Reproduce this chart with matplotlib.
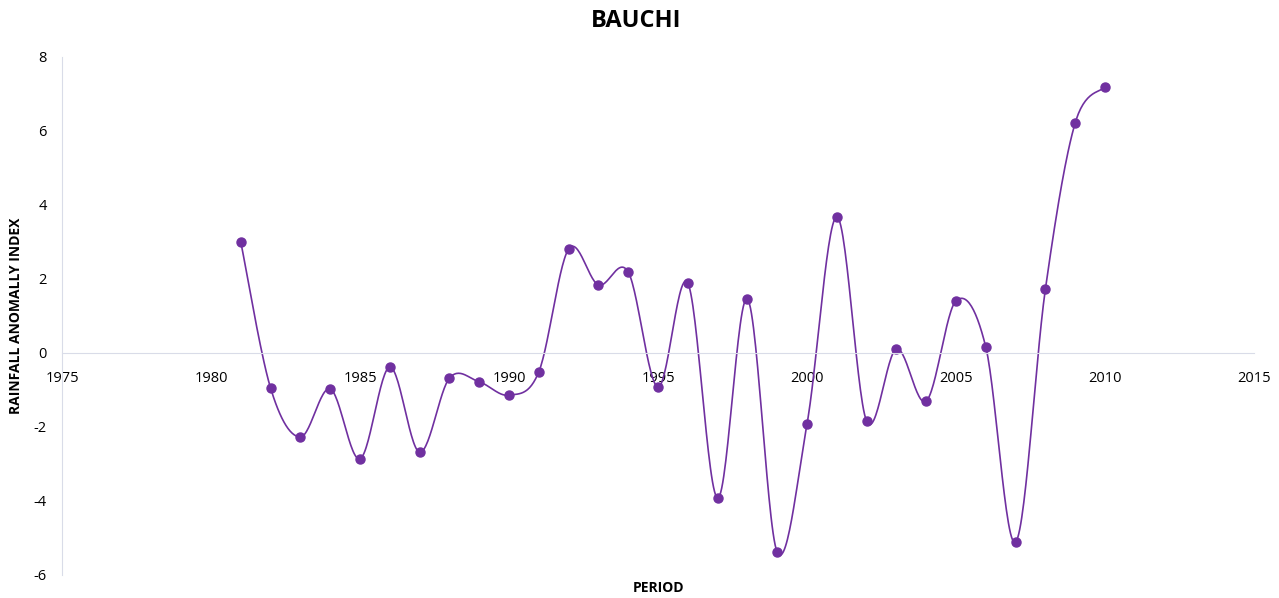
import numpy as np
import matplotlib.pyplot as plt

# Индекс аномалии осадков, Баучи
years = list(range(1981, 2011))
rai = [3.00, -0.95, -2.27, -0.97, -2.86, -0.38, -2.68, -0.68, -0.78, -1.14,
       -0.51, 2.81, 1.84, 2.19, -0.92, 1.89, -3.92, 1.46, -5.38, -1.92,
       3.68, -1.84, 0.11, -1.30, 1.41, 0.16, -5.11, 1.73, 6.22, 7.19]

purple = '#7030A0'
grid_col = '#d9dce8'


def smooth(x, y, n=30):
    # сглаженная линия как в Excel (кривые Безье по Катмулл-Рому)
    x = np.asarray(x, float)
    y = np.asarray(y, float)
    px = np.concatenate([[x[0]], x, [x[-1]]])
    py = np.concatenate([[y[0]], y, [y[-1]]])
    xs, ys = [], []
    t = np.linspace(0, 1, n)
    for i in range(1, len(x)):
        p0 = np.array([px[i], py[i]])
        p3 = np.array([px[i + 1], py[i + 1]])
        c1 = p0 + (np.array([px[i + 1], py[i + 1]]) - np.array([px[i - 1], py[i - 1]])) / 6
        c2 = p3 - (np.array([px[i + 2], py[i + 2]]) - np.array([px[i], py[i]])) / 6
        pts = ((1 - t) ** 3)[:, None] * p0 + (3 * (1 - t) ** 2 * t)[:, None] * c1 \
            + (3 * (1 - t) * t ** 2)[:, None] * c2 + (t ** 3)[:, None] * p3
        xs.extend(pts[:, 0])
        ys.extend(pts[:, 1])
    return xs, ys


plt.rcParams['font.family'] = ['Open Sans', 'DejaVu Sans']
plt.rcParams['axes.unicode_minus'] = False

fig = plt.figure(figsize=(12.79, 5.98), dpi=100)
ax = fig.add_axes([62 / 1279, 1 - 575 / 598, (1254 - 62) / 1279, (575 - 57) / 598])

sx, sy = smooth(years, rai)
ax.plot(sx, sy, color=purple, lw=1.2)
ax.plot(years, rai, 'o', color=purple, markersize=6.5)

ax.set_xlim(1975, 2015)
ax.set_ylim(-6, 8)
ax.set_xticks(range(1975, 2016, 5))
ax.set_yticks(range(-6, 9, 2))

for s in ['top', 'right']:
    ax.spines[s].set_visible(False)
ax.spines['bottom'].set_position(('data', 0))
ax.spines['bottom'].set_color(grid_col)
ax.spines['left'].set_color(grid_col)
ax.tick_params(length=0, labelsize=10.5, colors='#000000')
ax.tick_params(axis='x', pad=13)
ax.tick_params(axis='y', pad=11)

fig.text(636 / 1279, 1 - 21 / 598, 'BAUCHI', fontsize=17, fontweight='bold',
         ha='center', va='center')
ax.set_xlabel('PERIOD', fontsize=10, fontweight='bold')
ax.xaxis.set_label_coords(0.5, -0.012)
ax.set_ylabel('RAINFALL ANOMALLY INDEX', fontsize=10, fontweight='bold')
ax.yaxis.set_label_coords(-0.033, 0.5)

fig.savefig('out.png', dpi=100)
